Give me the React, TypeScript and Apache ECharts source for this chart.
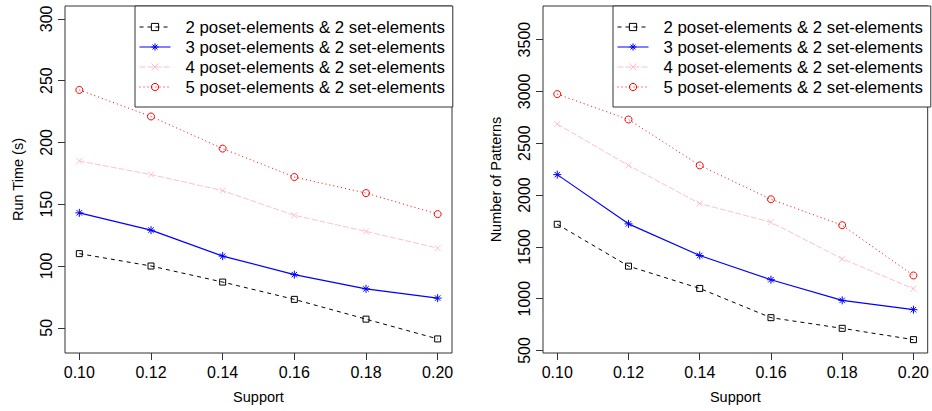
import React, { useEffect, useRef } from "react";
import * as echarts from "echarts";

const supports = [0.1, 0.12, 0.14, 0.16, 0.18, 0.2];
const seriesNames = [
  "2 poset-elements & 2 set-elements",
  "3 poset-elements & 2 set-elements",
  "4 poset-elements & 2 set-elements",
  "5 poset-elements & 2 set-elements",
];
// Left panel: Run Time (s)
const runTime2 = [110, 100, 87, 73, 57, 41];
const runTime3 = [143, 129, 108, 93, 81.5, 74];
const runTime4 = [185, 174, 161, 141, 128, 114.5];
const runTime5 = [242.5, 221, 195, 172, 159, 142];
// Right panel: Number of Patterns
const patterns2 = [1718, 1314, 1099, 817, 714, 605];
const patterns3 = [2197, 1722, 1417, 1183, 984, 894];
const patterns4 = [2685, 2286, 1918, 1738, 1385, 1096];
const patterns5 = [2974, 2729, 2286, 1959, 1709, 1224];

const runTimeTicks = [50, 100, 150, 200, 250, 300];
const patternTicks = [500, 1000, 1500, 2000, 2500, 3000, 3500];

const FONT = "'Liberation Sans', Arial, Helvetica, sans-serif";

const styles = [
  {
    color: "#000000",
    symbol: "rect",
    symbolSize: 6,
    line: { type: [4, 4], width: 1 },
  },
  {
    color: "#0000FF",
    symbol: "path://M0,5L10,5M5,0L5,10M1.6,1.6L8.4,8.4M1.6,8.4L8.4,1.6",
    symbolSize: 8,
    line: { type: "solid", width: 1.2 },
  },
  {
    color: "#FFC0CB",
    symbol: "path://M0,0L10,10M0,10L10,0",
    symbolSize: 6,
    line: { type: [6, 2], width: 1 },
  },
  {
    color: "#FF0000",
    symbol: "circle",
    symbolSize: 7,
    line: { type: [1, 3], width: 1 },
  },
];

function makeSeries(values: number[], idx: number, gridIdx: number) {
  const s = styles[idx];
  return {
    type: "line",
    name: seriesNames[idx],
    xAxisIndex: gridIdx,
    yAxisIndex: gridIdx,
    data: supports.map((x, i) => [x, values[i]]),
    symbol: s.symbol,
    symbolSize: s.symbolSize,
    showAllSymbol: true,
    lineStyle: { color: s.color, type: s.line.type, width: s.line.width },
    itemStyle: { color: "rgba(0,0,0,0)", borderColor: s.color, borderWidth: 1 },
    emphasis: { disabled: true },
    z: 3,
  };
}

function xAxis(gridIndex: number) {
  return {
    type: "value",
    gridIndex,
    min: 0.096,
    max: 0.204,
    name: "Support",
    nameLocation: "middle",
    nameGap: 36,
    nameTextStyle: { fontSize: 14.5, color: "#000", fontFamily: FONT },
    axisLine: { show: false },
    splitLine: { show: false },
    axisTick: {
      show: true,
      length: 7,
      customValues: supports,
      lineStyle: { color: "#333", width: 1 },
    },
    axisLabel: {
      customValues: supports,
      formatter: (v: number) => v.toFixed(2),
      fontSize: 16,
      color: "#000",
      fontFamily: FONT,
      margin: 11,
    },
  };
}

function yAxis(gridIndex: number, min: number, max: number, ticks: number[], name: string) {
  return {
    type: "value",
    gridIndex,
    min,
    max,
    name,
    nameLocation: "middle",
    nameGap: 40,
    nameTextStyle: { fontSize: 14.5, color: "#000", fontFamily: FONT },
    axisLine: { show: false },
    splitLine: { show: false },
    axisTick: {
      show: true,
      length: 7,
      customValues: ticks,
      lineStyle: { color: "#333", width: 1 },
    },
    axisLabel: {
      customValues: ticks,
      formatter: (v: number) => String(v),
      rotate: 90,
      fontSize: 16,
      color: "#000",
      fontFamily: FONT,
      margin: 11,
    },
  };
}

function legend(left: number) {
  return {
    left,
    top: 6,
    orient: "vertical",
    itemWidth: 31,
    itemHeight: 9,
    itemGap: 0,
    padding: [11, 8, 10, 4],
    borderColor: "#333",
    borderWidth: 1,
    borderRadius: 0,
    backgroundColor: "#fff",
    selectedMode: false,
    itemStyle: { borderWidth: 1 },
    lineStyle: { width: 1 },
    formatter: "{t|{name}}",
    textStyle: {
      fontSize: 16.8,
      lineHeight: 20,
      color: "#000",
      fontFamily: FONT,
      rich: {
        t: {
          fontSize: 16.8,
          lineHeight: 20,
          color: "#000",
          fontFamily: FONT,
          padding: [0, 0, 0, 10],
        },
      },
    },
    data: seriesNames,
  };
}

export default function App() {
  const ref = useRef<HTMLDivElement>(null);
  useEffect(() => {
    if (!ref.current) return;
    const chart = echarts.init(ref.current, null, { renderer: "svg" });
    chart.setOption({
      animation: false,
      backgroundColor: "#fff",
      textStyle: { fontFamily: FONT },
      grid: [
        { left: 65, top: 6, width: 387, height: 347, show: true, borderColor: "#333", borderWidth: 1, backgroundColor: "transparent" },
        { left: 543, top: 6, width: 386, height: 347, show: true, borderColor: "#333", borderWidth: 1, backgroundColor: "transparent" },
      ],
      legend: [legend(135), legend(613)],
      xAxis: [xAxis(0), xAxis(1)],
      yAxis: [
        yAxis(0, 29.6, 310.4, runTimeTicks, "Run Time (s)"),
        yAxis(1, 476, 3824, patternTicks, "Number of Patterns"),
      ],
      series: [
        makeSeries(runTime2, 0, 0),
        makeSeries(runTime3, 1, 0),
        makeSeries(runTime4, 2, 0),
        makeSeries(runTime5, 3, 0),
        makeSeries(patterns2, 0, 1),
        makeSeries(patterns3, 1, 1),
        makeSeries(patterns4, 2, 1),
        makeSeries(patterns5, 3, 1),
      ],
    });
    return () => chart.dispose();
  }, []);
  return (
    <div
      ref={ref}
      style={{ position: "absolute", left: 0, top: 0, width: 932, height: 411 }}
    />
  );
}
